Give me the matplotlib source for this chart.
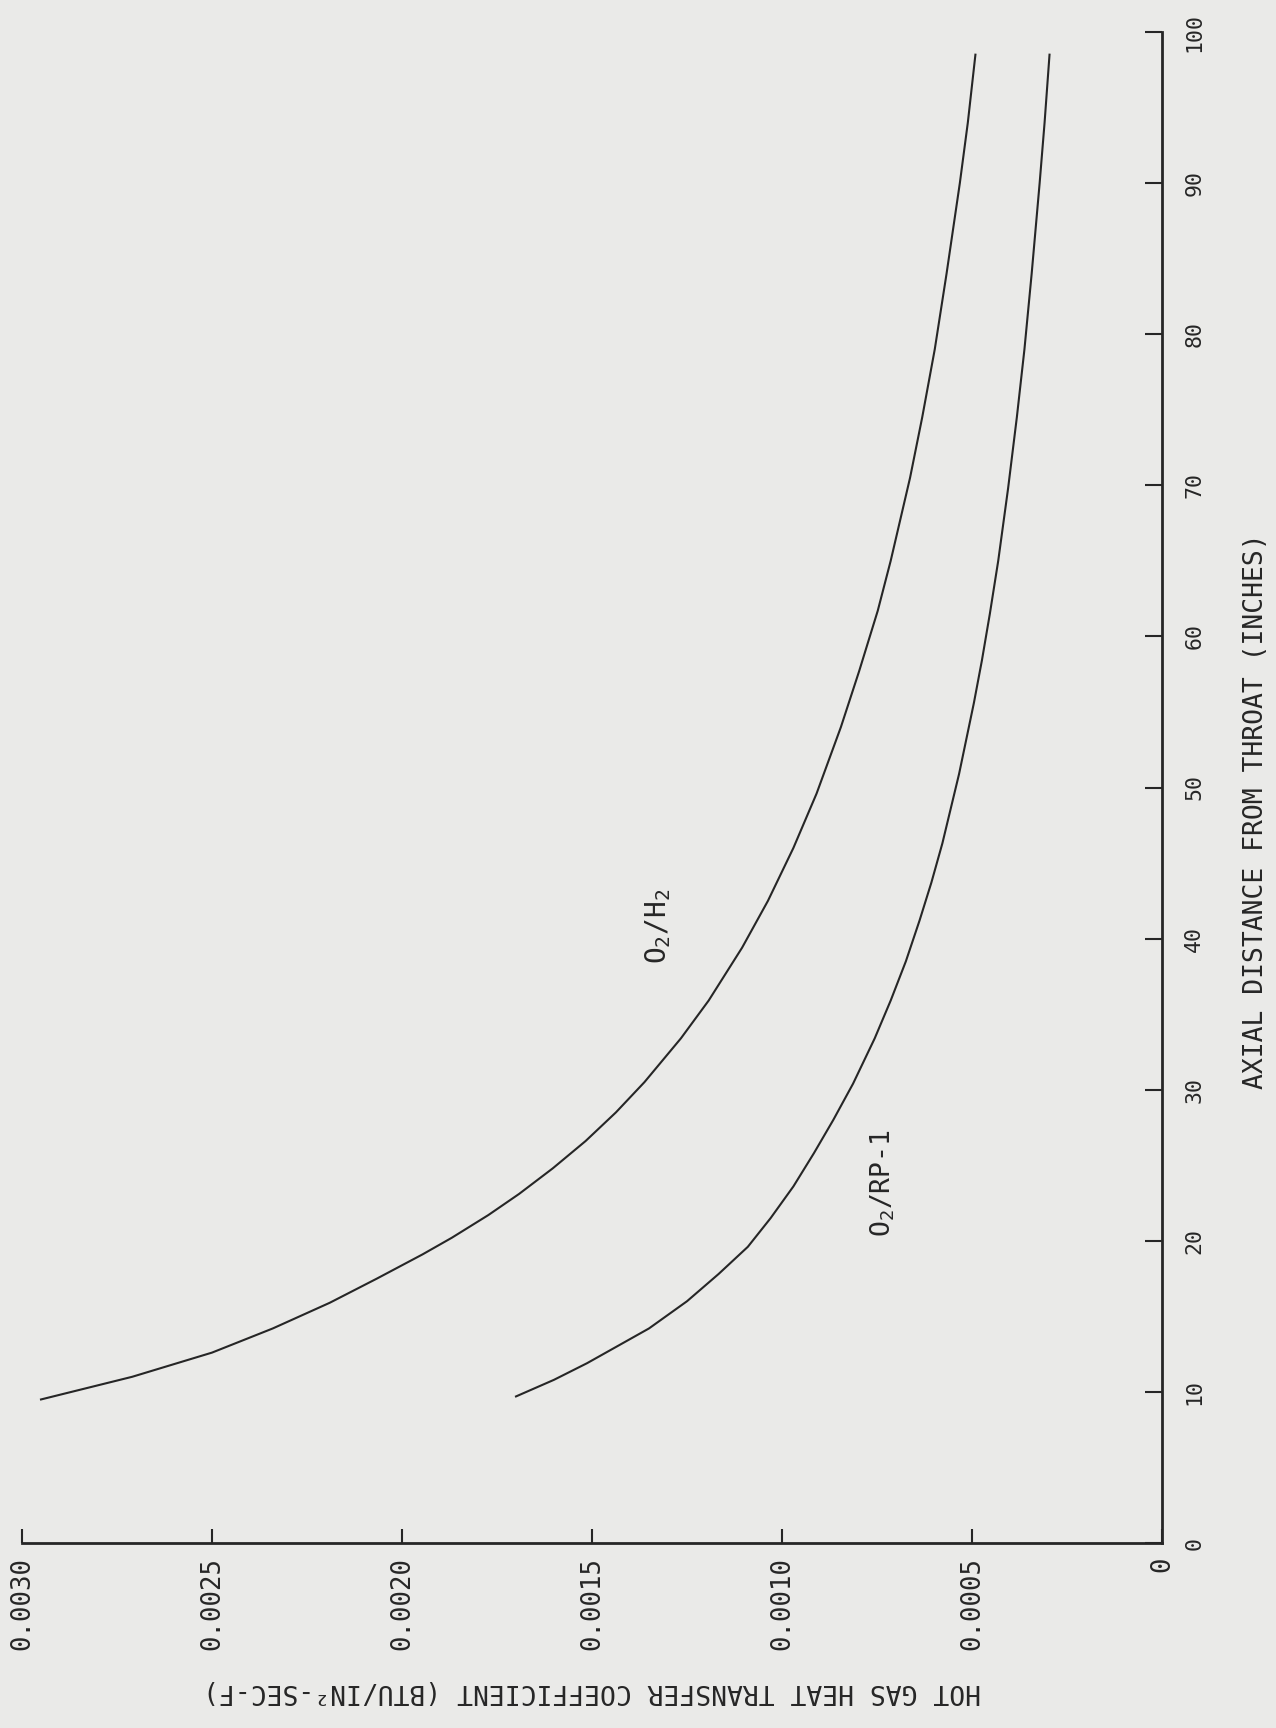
import matplotlib
matplotlib.use('Agg')
from matplotlib import pyplot as plt

# axial distance from throat (inches) and hot gas heat transfer coefficient
dist_h2 = [9.5, 11, 12.6, 14.2, 15.9, 17.5, 19.1, 20.2, 21.7, 23.1, 24.8, 26.6, 28.5,
           30.5, 33.4, 35.9, 39.4, 42.5, 46.0, 49.6, 54.0, 57.7, 61.7, 65.0, 70.5,
           74.5, 79, 84, 90, 94, 98.5]
coef_h2 = [0.00295, 0.00271, 0.00250, 0.00234, 0.00219, 0.002066, 0.001946, 0.001869,
           0.001773, 0.001692, 0.001603, 0.001517, 0.001437, 0.001362, 0.001266,
           0.001193, 0.001105, 0.001037, 0.000970, 0.000909, 0.000845, 0.000797,
           0.000748, 0.000714, 0.000663, 0.000631, 0.000598, 0.000567, 0.000532,
           0.000511, 0.000491]

dist_rp1 = [9.7, 10.8, 11.9, 13.0, 14.2, 16.0, 17.8, 19.6, 21.5, 23.6, 25.8, 28.0,
            30.4, 33.4, 35.9, 38.5, 41.2, 43.7, 46.3, 50.9, 55.6, 58.4, 61.5, 65.0,
            69.8, 74.5, 79, 84, 90, 94, 98.5]
coef_rp1 = [0.00170, 0.00160, 0.001513, 0.001435, 0.00135, 0.00125, 0.001167, 0.00109,
            0.00103, 0.000970, 0.000916, 0.000865, 0.000813, 0.000756, 0.000714,
            0.000674, 0.000638, 0.000607, 0.000578, 0.000534, 0.000495, 0.000474,
            0.000453, 0.000431, 0.000405, 0.000382, 0.000362, 0.000343, 0.000322,
            0.000309, 0.000296]

coef_ticks = [0.0030, 0.0025, 0.0020, 0.0015, 0.0010, 0.0005, 0]
coef_labels = ['0.0030', '0.0025', '0.0020', '0.0015', '0.0010', '0.0005', '0']
dist_ticks = [0, 10, 20, 30, 40, 50, 60, 70, 80, 90, 100]

plt.rcParams['font.family'] = 'DejaVu Sans Mono'
plt.rcParams['mathtext.fontset'] = 'custom'
plt.rcParams['mathtext.rm'] = 'DejaVu Sans Mono'
plt.rcParams['mathtext.it'] = 'DejaVu Sans Mono'

ink = '#262626'
paper = '#eaeae8'

fig = plt.figure(figsize=(12.76, 17.28), dpi=100, facecolor=paper)
ax = fig.add_axes([22 / 1276, 1 - 1543 / 1728, 1140 / 1276, 1511 / 1728])
ax.set_facecolor(paper)

# page is turned: coefficient runs right-to-left along the bottom, distance upward on the right
ax.plot(coef_h2, dist_h2, color=ink, lw=1.5)
ax.plot(coef_rp1, dist_rp1, color=ink, lw=1.5)

ax.set_xlim(0.0030, 0)
ax.set_ylim(0, 100)

ax.spines['top'].set_visible(False)
ax.spines['left'].set_visible(False)
ax.spines['bottom'].set_linewidth(2)
ax.spines['right'].set_linewidth(2)
ax.spines['bottom'].set_color(ink)
ax.spines['right'].set_color(ink)

ax.yaxis.tick_right()
ax.yaxis.set_label_position('right')

ax.set_xticks(coef_ticks)
ax.set_xticklabels(coef_labels, rotation=90, fontsize=18.5, color=ink)
ax.set_yticks(dist_ticks)
ax.set_yticklabels([str(t) for t in dist_ticks], rotation=90, fontsize=15.5, color=ink,
                   va='center')

ax.tick_params(axis='x', direction='in', length=10, width=1.5, pad=10, colors=ink)
ax.tick_params(axis='y', direction='in', length=12, width=1.5, pad=16, colors=ink)

ax.set_xlabel('HOT GAS HEAT TRANSFER COEFFICIENT (BTU/IN\u00b2-SEC-F)', rotation=180,
              fontsize=19, color=ink, labelpad=20)
ax.set_ylabel('AXIAL DISTANCE FROM THROAT (INCHES)', rotation=90, fontsize=19,
              color=ink, labelpad=28, y=0.484)

ax.text(0.001326, 40.8, r'O$_2$/H$_2$', rotation=90, ha='center', va='center',
        fontsize=20, color=ink)
ax.text(0.000734, 23.8, r'O$_2$/RP-1', rotation=90, ha='center', va='center',
        fontsize=19, color=ink)

plt.savefig('out.png', dpi=100, facecolor=paper)
plt.close()
